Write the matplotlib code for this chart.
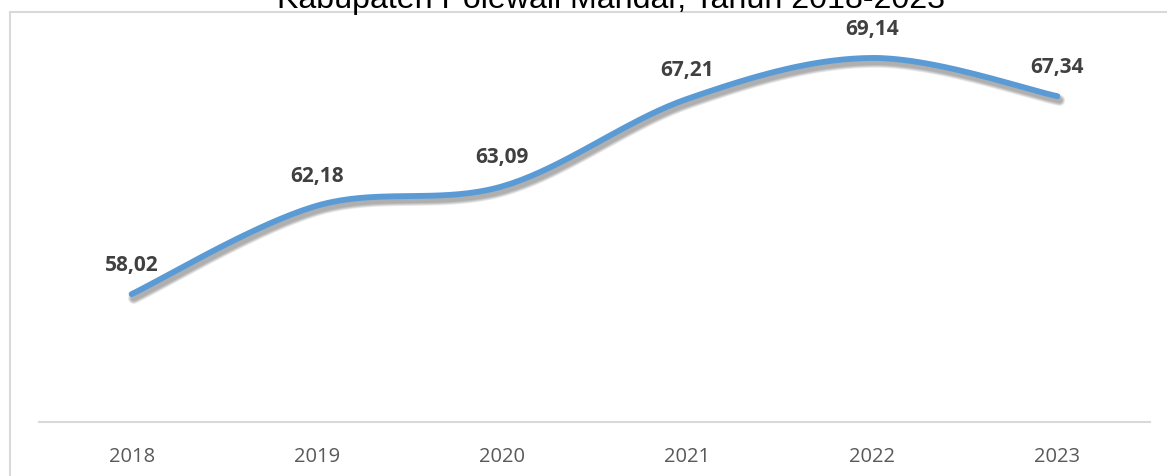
import numpy as np
import matplotlib
matplotlib.use("Agg")
import matplotlib.pyplot as plt
import matplotlib.patheffects as pe
from matplotlib.lines import Line2D

# nilai per tahun
tahun = ["2018", "2019", "2020", "2021", "2022", "2023"]
nilai = [58.02, 62.18, 63.09, 67.21, 69.14, 67.34]
label_nilai = ["58,02", "62,18", "63,09", "67,21", "69,14", "67,34"]
judul = "Kabupaten Polewali Mandar, Tahun 2018-2023"

BLUE = "#5B9BD5"
GRID = "#D9D9D9"
TEXT_DARK = "#404040"
TEXT_AXIS = "#595959"

W, H = 1167, 477


def smooth_bezier(x, y, n=40):
    # kurva halus gaya spreadsheet: bezier kubik per segmen, kontrol = selisih tetangga / 6
    pts = np.column_stack([x, y]).astype(float)
    ext = np.vstack([pts[0], pts, pts[-1]])
    out = []
    t = np.linspace(0, 1, n)[:, None]
    for i in range(len(pts) - 1):
        p0 = ext[i + 1]
        p3 = ext[i + 2]
        c1 = p0 + (ext[i + 2] - ext[i]) / 6.0
        c2 = p3 - (ext[i + 3] - ext[i + 1]) / 6.0
        seg = ((1 - t) ** 3) * p0 + 3 * ((1 - t) ** 2) * t * c1 + 3 * (1 - t) * t ** 2 * c2 + t ** 3 * p3
        out.append(seg if i == 0 else seg[1:])
    seg = np.vstack(out)
    return seg[:, 0], seg[:, 1]


fig = plt.figure(figsize=(W / 100, H / 100), dpi=100)
fig.patch.set_facecolor("white")

ax = fig.add_axes([39 / W, (H - 423) / H, 1111 / W, 424.8 / H])
ax.set_xlim(-0.5, 5.5)
ax.set_ylim(52, 72)

xpos = np.arange(len(tahun))
sx, sy = smooth_bezier(xpos, nilai)

# bayangan lembut di bawah garis
lw = 4.2
shadow = [pe.SimpleLineShadow(offset=(1.5, -3.0), shadow_color="black", alpha=0.07,
                              linewidth=lw + k) for k in (4.0, 3.0, 2.0, 1.0, 0.0)]
ax.plot(sx, sy, color=BLUE, lw=lw, solid_capstyle="round", solid_joinstyle="round",
        path_effects=shadow + [pe.Normal()], zorder=3)

for xi, yi, lab in zip(xpos, nilai, label_nilai):
    ax.annotate(lab, (xi, yi), xytext=(0, 21.5), textcoords="offset points",
                ha="center", va="center", fontsize=15, fontweight="bold",
                family="Open Sans", color=TEXT_DARK)

ax.set_xticks(xpos)
ax.set_xticklabels(tahun, family="Open Sans", fontsize=14.5, color=TEXT_AXIS)
ax.tick_params(axis="x", length=0, pad=17.5)
ax.set_yticks([])
for side in ("top", "right", "left"):
    ax.spines[side].set_visible(False)
ax.spines["bottom"].set_color(GRID)
ax.spines["bottom"].set_linewidth(1.5)

# bingkai area grafik
fig.add_artist(Line2D([9.5 / W, 1.0], [1 - 12.5 / H, 1 - 12.5 / H], color=GRID, lw=1.5))
fig.add_artist(Line2D([9.5 / W, 9.5 / W], [0, 1 - 12.5 / H], color=GRID, lw=1.5))

fig.text(611 / W, 1 - 8 / H, judul, ha="center", va="baseline", fontsize=23.1,
         family="Liberation Sans", color="black")

fig.savefig("out.png", dpi=100, facecolor="white")
